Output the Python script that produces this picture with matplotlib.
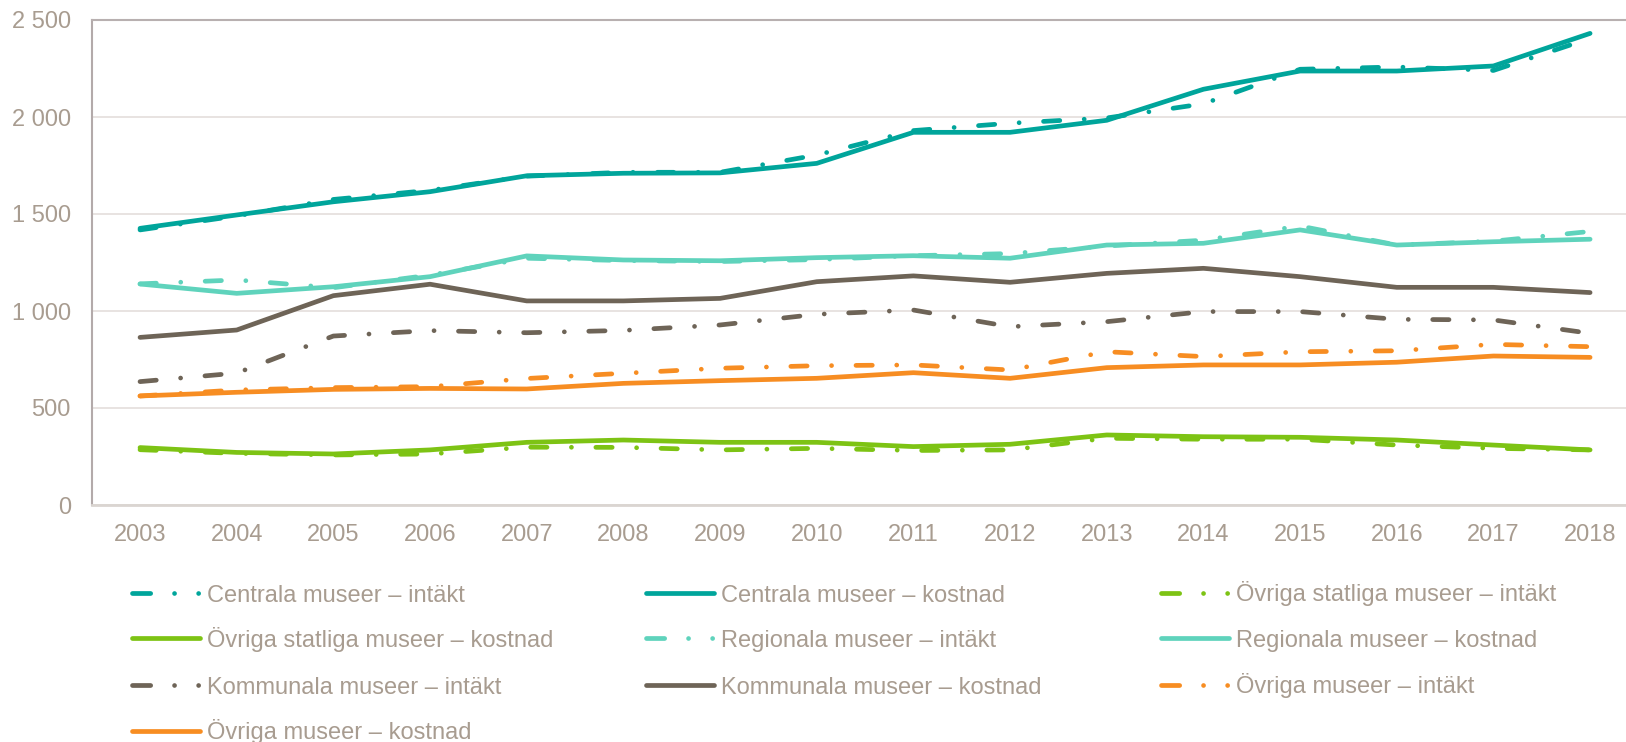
import matplotlib
matplotlib.use("Agg")
import matplotlib.pyplot as plt
from matplotlib.lines import Line2D

years = [str(y) for y in range(2003, 2019)]

centrala_intakt = [1418, 1490, 1575, 1622, 1695, 1715, 1715, 1804, 1930, 1968, 1995, 2068, 2246, 2258, 2240, 2405]
centrala_kostnad = [1426, 1495, 1563, 1615, 1697, 1710, 1712, 1761, 1921, 1921, 1983, 2143, 2237, 2237, 2263, 2431]
ovr_statliga_intakt = [285, 266, 258, 263, 298, 297, 284, 292, 281, 284, 344, 339, 339, 309, 292, 284]
ovr_statliga_kostnad = [296, 271, 263, 284, 323, 335, 323, 323, 301, 313, 361, 352, 349, 335, 309, 284]
regionala_intakt = [1140, 1160, 1120, 1185, 1272, 1260, 1255, 1265, 1285, 1296, 1335, 1365, 1438, 1340, 1360, 1410]
regionala_kostnad = [1139, 1091, 1125, 1177, 1284, 1263, 1259, 1275, 1285, 1272, 1340, 1349, 1418, 1340, 1357, 1370]
kommunala_intakt = [636, 680, 871, 899, 888, 900, 928, 983, 1005, 919, 945, 997, 997, 957, 954, 885]
kommunala_kostnad = [864, 902, 1079, 1138, 1052, 1052, 1065, 1151, 1181, 1148, 1194, 1220, 1177, 1122, 1122, 1095]
ovriga_intakt = [562, 593, 605, 610, 652, 679, 705, 718, 722, 696, 790, 765, 790, 795, 828, 816]
ovriga_kostnad = [562, 581, 596, 601, 598, 627, 641, 653, 682, 653, 708, 722, 722, 736, 768, 761]

labels = ["Centrala museer – intäkt", "Centrala museer – kostnad",
          "Övriga statliga museer – intäkt", "Övriga statliga museer – kostnad",
          "Regionala museer – intäkt", "Regionala museer – kostnad",
          "Kommunala museer – intäkt", "Kommunala museer – kostnad",
          "Övriga museer – intäkt", "Övriga museer – kostnad"]
series = [centrala_intakt, centrala_kostnad, ovr_statliga_intakt, ovr_statliga_kostnad,
          regionala_intakt, regionala_kostnad, kommunala_intakt, kommunala_kostnad,
          ovriga_intakt, ovriga_kostnad]

TEAL = "#00A59B"
LTEAL = "#5FD3BC"
GREEN = "#7DC314"
BROWN = "#6E6457"
ORANGE = "#F78D22"
colors = [TEAL, TEAL, GREEN, GREEN, LTEAL, LTEAL, BROWN, BROWN, ORANGE, ORANGE]
TXT = "#A89C90"

plt.rcParams['font.family'] = ['Liberation Sans', 'DejaVu Sans']

W, H = 1626, 742
fig = plt.figure(figsize=(W / 100, H / 100), dpi=100)
left_px, zero_px, top_px = 91.7, 505.0, 20.0
spacing = 96.67
right_px = left_px + 16 * spacing
ax = fig.add_axes([left_px / W, 1 - zero_px / H, (right_px - left_px) / W, (zero_px - top_px) / H])

LW = 3.4
dash_plot = (0, (3.45, 5.17, 0.01, 5.17))
x = list(range(len(years)))
for i, (s, c) in enumerate(zip(series, colors)):
    if i % 2 == 0:
        ax.plot(x, s, color=c, lw=LW, linestyle=dash_plot, dash_capstyle='round',
                solid_capstyle='round', zorder=3 + i)
    else:
        ax.plot(x, s, color=c, lw=LW, solid_capstyle='round', zorder=3 + i)

ax.set_xlim(-0.5, 15.5)
ax.set_ylim(0, 2500)
ax.set_xticks(x)
ax.set_xticklabels(years)
yt = [0, 500, 1000, 1500, 2000, 2500]
ax.set_yticks(yt)
ax.set_yticklabels([f"{v:,}".replace(",", " ") for v in yt])
ax.tick_params(axis='both', length=0, labelsize=17, labelcolor=TXT)
ax.tick_params(axis='x', pad=13.5)
ax.tick_params(axis='y', pad=15)
ax.grid(axis='y', color="#E8E3E1", lw=1.4, zorder=0)
ax.set_axisbelow(True)
ax.spines['right'].set_visible(False)
ax.spines['left'].set_color("#B3AAAA")
ax.spines['left'].set_linewidth(1.5)
ax.spines['top'].set_color("#B8B0B0")
ax.spines['top'].set_linewidth(1.5)
ax.spines['bottom'].set_color("#DAD5D1")
ax.spines['bottom'].set_linewidth(2)

# Legend: three columns, filled row-wise, one entry per legend for exact alignment
dash_leg = (0, (3.85, 5.05, 0.01, 5.09, 0.01, 30))
handles = []
for i, c in enumerate(colors):
    if i % 2 == 0:
        handles.append(Line2D([], [], color=c, lw=LW, linestyle=dash_leg,
                              dash_capstyle='round', solid_capstyle='round'))
    else:
        handles.append(Line2D([], [], color=c, lw=LW, solid_capstyle='round'))

col_x = [132.0, 646.0, 1161.0]
row_y = [592.0, 637.0, 684.0, 730.0]
fs_px = 17 * 100 / 72
for k in range(len(labels)):
    col, row = k % 3, k // 3
    leg = fig.legend([handles[k]], [labels[k]],
                     loc='lower left', bbox_to_anchor=(col_x[col] / W, 1 - (row_y[row] + 14.5) / H),
                     frameon=False, fontsize=17, labelcolor=TXT,
                     handlelength=68 / fs_px, handletextpad=7 / fs_px,
                     borderpad=0, borderaxespad=0, handleheight=0.7)

fig.savefig("out.png", dpi=100)
